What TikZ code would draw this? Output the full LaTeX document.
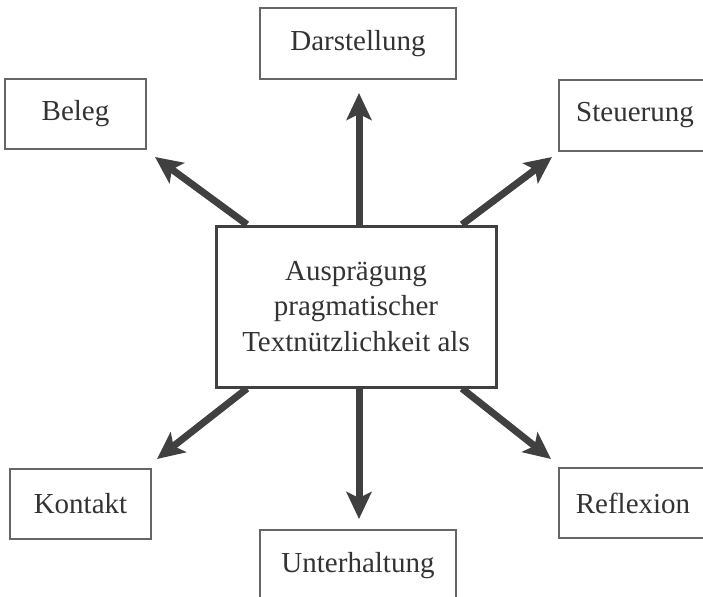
\documentclass[tikz,border=0pt]{standalone}
\usepackage{fontspec}
\setmainfont{Liberation Serif}
\usetikzlibrary{arrows.meta}

\begin{document}
\begin{tikzpicture}[x=0.5pt,y=-0.5pt,
	kasten/.style={draw=black!60,line width=0.75pt,fill=white,text=black!80,
		font=\fontsize{14.5pt}{17.75pt}\selectfont,inner sep=0pt},
	mitte/.style={kasten,draw=black!75,line width=1.5pt,align=center,
		minimum width=140pt,minimum height=80.5pt},
	pfeil/.style={draw=black!75,line width=3.5pt,
		-{Stealth[length=13.5pt,width=12.5pt,inset=3pt]}}]
	% 画布范围,超出部分裁掉
	\clip (0,0) rectangle (703,596);
	
	% 中间的方框
	\node[mitte] (main) at (356,306.5) {Ausprägung\\pragmatischer\\Textnützlichkeit als};
	
	% 上面三个方框
	\node[kasten,minimum width=98pt,minimum height=35.5pt] (darst) at (358,43.5) {Darstellung};
	\node[kasten,minimum width=70.5pt,minimum height=35pt] (beleg) at (75.5,114) {Beleg};
	\node[kasten,minimum width=76pt,minimum height=35.5pt] (steuer) at (635,115.5) {Steuerung};
	
	% 下面三个方框
	\node[kasten,minimum width=70.5pt,minimum height=35pt] (kontakt) at (80.5,504) {Kontakt};
	\node[kasten,minimum width=98pt,minimum height=35.5pt] (unter) at (358,565.5) {Unterhaltung};
	\node[kasten,minimum width=74pt,minimum height=35pt] (reflex) at (633,503) {Reflexion};
	
	% 箭头的终点
	\coordinate (tBeleg) at (155,157);
	\coordinate (tDarst) at (359,93);
	\coordinate (tSteuer) at (552,157);
	\coordinate (tKontakt) at (157,459);
	\coordinate (tUnter) at (359,519);
	\coordinate (tReflex) at (551,459);
	
	% 从中间方框出发的六个箭头
	\draw[pfeil] ([xshift=-54.5pt]main.north) -- (tBeleg);
	\draw[pfeil] ([xshift=1.5pt]main.north) -- (tDarst);
	\draw[pfeil] ([xshift=53pt]main.north) -- (tSteuer);
	\draw[pfeil] ([xshift=-54.5pt]main.south) -- (tKontakt);
	\draw[pfeil] ([xshift=1.5pt]main.south) -- (tUnter);
	\draw[pfeil] ([xshift=53pt]main.south) -- (tReflex);
	
\end{tikzpicture}
\end{document}
